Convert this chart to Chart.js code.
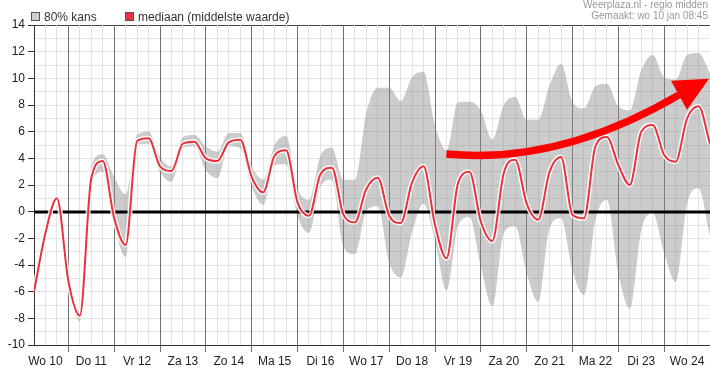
<!DOCTYPE html>
<html><head><meta charset="utf-8">
<script src="https://cdn.jsdelivr.net/npm/chart.js@4"></script>
<style>
html,body{margin:0;padding:0;background:#fff;}
#wrap{position:relative;width:710px;height:370px;font-family:Arial,"Liberation Sans",sans-serif;overflow:hidden;}
canvas{position:absolute;left:0;top:0;}
.leg{position:absolute;top:11px;font-size:12px;color:#333;line-height:12px;white-space:nowrap;}
.sw{display:inline-block;width:7px;height:7px;border:1px solid #555;vertical-align:top;margin-right:4px;margin-top:1px;}
#hdr{position:absolute;right:2px;top:0;font-size:10px;line-height:10.5px;color:#999;text-align:right;white-space:nowrap;}
</style></head>
<body>
<div id="wrap">
<canvas id="c" width="710" height="370"></canvas>
<div class="leg" style="left:31px"><span class="sw" style="background:#cfcfcf"></span>80% kans</div>
<div class="leg" style="left:125px"><span class="sw" style="background:#e8333f"></span>mediaan (middelste waarde)</div>
<div id="hdr">Weerplaza.nl - regio midden<br>Gemaakt: wo 10 jan 08:45</div>
</div>
<script>
// hours since Wo 10 00:00
const hours = [6,12,18,24,30,36,42,48,54,60,66,72,78,84,90,96,102,108,114,120,126,132,138,144,150,156,162,168,174,180,186,192,198,204,210,216,222,228,234,240,246,252,258,264,270,276,282,288,294,300,306,312,318,324,330,336,342,348,354,360];
const median = [-6.0,-1.6,1.0,-5.2,-7.8,2.5,3.8,-0.5,-2.5,5.3,5.5,3.4,3.05,5.1,5.25,4.0,3.8,5.2,5.4,2.6,1.45,4.2,4.6,0.7,-0.3,2.8,3.3,-0.2,-0.8,1.7,2.55,-0.3,-0.85,2.2,3.4,-1.0,-3.5,2.1,3.0,-0.75,-2.2,2.9,3.9,0.6,-0.6,3.0,4.1,-0.25,-0.5,4.9,5.6,3.5,2.0,6.0,6.5,4.25,3.75,7.0,7.9,5.1];
const upper = [-5.8,-1.4,1.2,-5.0,-7.4,3.4,4.3,2.6,1.3,5.75,6.0,4.1,3.4,5.6,5.75,4.9,4.5,5.9,5.9,3.4,2.4,5.0,5.7,1.8,0.9,4.2,4.8,2.4,2.4,7.4,9.3,9.3,8.3,10.1,10.5,6.5,4.6,8.2,8.25,7.6,5.4,8.0,8.6,6.9,6.9,9.5,11.1,8.25,7.75,9.4,9.6,7.9,7.6,10.6,11.75,10.1,9.9,11.75,11.9,10.4];
const lower = [-6.2,-1.8,0.8,-5.4,-8.2,2.1,3.0,-1.0,-3.4,5.0,5.1,3.0,2.25,4.75,4.9,3.1,2.5,4.9,4.75,1.9,0.5,3.5,3.55,-0.3,-1.6,1.9,2.4,-2.6,-3.2,0.05,0.4,-3.8,-4.95,-1.5,0.6,-2.1,-5.9,-1.1,-0.4,-4.1,-7.1,-1.6,-1.1,-4.6,-6.75,-1.2,-0.5,-4.4,-6.25,-0.6,0.9,-4.6,-7.25,-1.4,-0.1,-3.1,-5.25,0.6,1.75,-1.8];
const dayLabels = ['Wo 10','Do 11','Vr 12','Za 13','Zo 14','Ma 15','Di 16','Wo 17','Do 18','Vr 19','Za 20','Zo 21','Ma 22','Di 23','Wo 24'];
const yMin = -10, yMax = 14;
// annotation arrow in data units (hour, value): start, control, end of shaft; head triangle
const arrowCurve = [[222,4.32],[281,3.5],[343.8,8.76]];
const arrowHead = [[339.6,9.81],[359.5,9.96],[347.96,7.64]];

const toPts = arr => hours.map((h,i)=>({x:h,y:arr[i]}));
Chart.defaults.font.family = 'Arial, "Liberation Sans", sans-serif';

const zeroLine = {
  id:'zeroLine',
  beforeDatasetDraw(chart,args){
    if(args.index!==1) return;
    const {ctx,chartArea,scales:{y}} = chart;
    const py = Math.round(y.getPixelForValue(0));
    ctx.save(); ctx.strokeStyle='#000'; ctx.lineWidth=3;
    ctx.beginPath(); ctx.moveTo(chartArea.left,py); ctx.lineTo(chartArea.right,py); ctx.stroke();
    ctx.restore();
  }
};
const arrow = {
  id:'arrow',
  afterDatasetsDraw(chart){
    const {ctx,scales:{x,y}} = chart;
    const P = p => [x.getPixelForValue(p[0]), y.getPixelForValue(p[1])];
    const [a,b,c] = arrowCurve.map(P);
    ctx.save();
    ctx.strokeStyle='#ff0000'; ctx.lineWidth=7.5; ctx.lineCap='butt';
    ctx.beginPath(); ctx.moveTo(a[0],a[1]); ctx.quadraticCurveTo(b[0],b[1],c[0],c[1]); ctx.stroke();
    const h = arrowHead.map(P);
    ctx.fillStyle='#ff0000';
    ctx.beginPath(); ctx.moveTo(h[0][0],h[0][1]); ctx.lineTo(h[1][0],h[1][1]); ctx.lineTo(h[2][0],h[2][1]); ctx.closePath(); ctx.fill();
    ctx.restore();
  }
};

new Chart(document.getElementById('c'), {
  type:'line',
  data:{ datasets:[
    {label:'mediaan', data:toPts(median), borderColor:'#e8333f', borderWidth:2, pointRadius:0, cubicInterpolationMode:'monotone', fill:false},
    {label:'halo', data:toPts(median), borderColor:'rgba(255,255,255,0.85)', borderWidth:5, pointRadius:0, cubicInterpolationMode:'monotone', fill:false},
    {label:'80% boven', data:toPts(upper), borderColor:'rgba(0,0,0,0)', borderWidth:0, backgroundColor:'rgba(140,140,140,0.44)', pointRadius:0, cubicInterpolationMode:'monotone', fill:'+1'},
    {label:'80% onder', data:toPts(lower), borderColor:'rgba(0,0,0,0)', borderWidth:0, pointRadius:0, cubicInterpolationMode:'monotone', fill:false}
  ]},
  options:{
    responsive:false, animation:false, devicePixelRatio:1,
    layout:{padding:{top:25,left:0,right:0,bottom:0}},
    plugins:{legend:{display:false}, tooltip:{enabled:false}},
    scales:{
      x:{
        type:'linear', min:6, max:360,
        afterFit(s){ s.height=25; s.paddingLeft=0; s.paddingRight=0; },
        ticks:{stepSize:6, autoSkip:false, maxTicksLimit:200, maxRotation:0, minRotation:0, padding:2, color:'#222', font:{size:12},
          callback:(v)=> (v%24===12 ? dayLabels[(v-12)/24] : '')},
        grid:{z:-1, color:c=> (c.tick && c.tick.value%24===0 ? '#707070' : '#e3e3e3'),
              tickColor:c=> (c.tick && c.tick.value%24===0 ? '#707070' : 'rgba(0,0,0,0)'), tickLength:7},
        border:{color:'#333', width:1}
      },
      y:{
        type:'linear', min:yMin, max:yMax,
        afterFit(s){ s.width=34; s.paddingTop=0; s.paddingBottom=0; },
        ticks:{stepSize:1, autoSkip:false, maxTicksLimit:200, padding:3, color:'#222', font:{size:12},
          callback:(v)=> (v%2===0 ? String(v) : '')},
        grid:{z:-2, color:c=> { const v=c.tick?c.tick.value:null; if(v===yMax) return '#444'; if(v===0) return 'rgba(0,0,0,0)'; return '#e3e3e3'; },
              tickColor:c=> (c.tick && c.tick.value%2===0 ? '#333' : 'rgba(0,0,0,0)'), tickLength:6},
        border:{color:'#333', width:1}
      }
    }
  },
  plugins:[zeroLine, arrow]
});
</script>
</body></html>
